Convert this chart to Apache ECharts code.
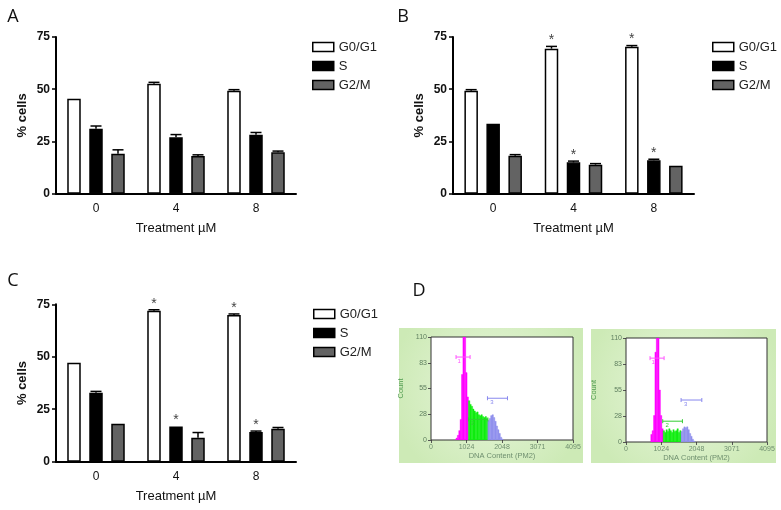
<!DOCTYPE html>
<html><head><meta charset="utf-8">
<script src="https://cdn.jsdelivr.net/npm/echarts@6/dist/echarts.min.js"></script>
<style>html,body{margin:0;padding:0;background:#fff}#c{width:781px;height:510px}</style>
</head><body><div id="c"></div>
<script>
// ---------- DATA ----------
const categories = ['0', '4', '8'];
const phases = ['G0/G1', 'S', 'G2/M'];
const yTicks = [0, 25, 50, 75];

// Panel A
const aG0G1 = [45.4, 52.6, 49.3];
const aS    = [31.1, 27.0, 28.2];
const aG2M  = [19.1, 18.0, 19.8];
const aErrG0G1 = [0, 0.7, 0.5];
const aErrS    = [1.3, 1.3, 1.1];
const aErrG2M  = [1.9, 0.6, 0.6];
const aSigG0G1 = [0, 0, 0];
const aSigS    = [0, 0, 0];
const aSigG2M  = [0, 0, 0];

// Panel B
const bG0G1 = [49.3, 69.4, 70.3];
const bS    = [33.5, 15.0, 16.0];
const bG2M  = [18.2, 13.9, 13.4];
const bErrG0G1 = [0.5, 1.1, 0.6];
const bErrS    = [0, 0.6, 0.5];
const bErrG2M  = [0.5, 0.5, 0];
const bSigG0G1 = [0, 1, 1];
const bSigS    = [0, 1, 1];
const bSigG2M  = [0, 0, 0];

// Panel C
const cG0G1 = [47.2, 71.9, 69.9];
const cS    = [32.9, 16.8, 14.1];
const cG2M  = [18.1, 11.4, 15.7];
const cErrG0G1 = [0, 0.5, 0.5];
const cErrS    = [0.6, 0, 0.5];
const cErrG2M  = [0, 2.5, 0.6];
const cSigG0G1 = [0, 1, 1];
const cSigS    = [0, 1, 1];
const cSigG2M  = [0, 0, 0];

// Panel D histograms (DNA content bins, counts)
const dnaTicks = [0, 1024, 2048, 3071, 4095];
const countTicks = [0, 28, 55, 83, 110];
const binWidth = 40;
const d1BinStarts = [720,760,800,840,880,920,960,1000,1040,1080,1120,1160,1200,1240,1280,1320,1360,1400,1440,1480,1520,1560,1600,1640,1680,1720,1760,1800,1840,1880,1920,1960,2000,2040];
const d1Counts    = [2,5,10,22,70,125,118,72,46,42,38,36,33,31,29,30,27,26,27,25,24,25,23,21,23,26,27,24,20,15,11,7,3,1];
const d1Gates = [1080, 1640];
const d2BinStarts = [720,760,800,840,880,920,960,1000,1040,1080,1120,1160,1200,1240,1280,1320,1360,1400,1440,1480,1520,1560,1600,1640,1680,1720,1760,1800,1840,1880,1920,1960];
const d2Counts    = [8,12,28,95,130,125,55,28,14,12,10,13,11,14,12,10,13,11,12,14,10,12,11,14,16,15,16,13,9,6,3,1];
const d2Gates = [1080, 1600];
// markers: [start, end, level, label]
const d1Markers = [[722, 1127, 88.6, '1'], [1080, 1640, 22, '2'], [1628, 2206, 44.6, '3']];
const d2Markers = [[698, 1106, 88.7, '1'], [1067, 1639, 22, '2'], [1600, 2202, 44.4, '3']];

// ---------- STYLE ----------
const FONT = 'Liberation Sans';
const barFill = ['#ffffff', '#000000', '#636363'];
const histFill = ['#ff00ff', '#11ee11', '#9090ee'];
const markerCol = ['#ff55ff', '#33cc33', '#8888ee'];
const STEP = 22;

const chart = echarts.init(document.getElementById('c'), null, {renderer: 'canvas'});

const grids = [
  {left: 56, top: 37, width: 240, height: 156.7},
  {left: 453, top: 37, width: 241, height: 156.7},
  {left: 56, top: 304.3, width: 240, height: 157.4},
  {left: 431, top: 337, width: 142, height: 103, show: true, backgroundColor: '#ffffff', borderColor: '#333', borderWidth: 1, z: 1},
  {left: 626, top: 338, width: 141, height: 104, show: true, backgroundColor: '#ffffff', borderColor: '#333', borderWidth: 1, z: 1}
];

function barX(i) {
  return {
    type: 'category', gridIndex: i, data: categories,
    axisLine: {lineStyle: {color: '#000', width: 2}},
    axisTick: {alignWithLabel: true, length: 5, lineStyle: {color: '#000', width: 1.5}},
    axisLabel: {fontSize: 12, color: '#111', fontFamily: FONT, margin: 9},
    name: 'Treatment µM', nameLocation: 'middle', nameGap: 28,
    nameTextStyle: {fontSize: 13, color: '#111', fontFamily: FONT}
  };
}
function barY(i) {
  return {
    type: 'value', gridIndex: i, min: yTicks[0], max: yTicks[yTicks.length - 1], interval: 25,
    axisLine: {show: true, lineStyle: {color: '#000', width: 2}},
    axisTick: {show: true, length: 4, lineStyle: {color: '#000', width: 1.5}},
    axisLabel: {fontSize: 12, fontWeight: 'bold', color: '#111', fontFamily: FONT, margin: 6},
    splitLine: {show: false},
    name: '% cells', nameLocation: 'middle', nameGap: 27, nameRotate: 90,
    nameTextStyle: {fontSize: 13, fontWeight: 'bold', color: '#111', fontFamily: FONT}
  };
}
function histX(i) {
  return {
    type: 'value', gridIndex: i, min: 0, max: 4095, interval: 1023.75,
    axisLine: {show: false}, splitLine: {show: false},
    axisTick: {show: true, length: 3, lineStyle: {color: '#555', width: 1}},
    axisLabel: {fontSize: 7, color: '#6f8f6f', fontFamily: FONT, margin: 4,
      formatter: v => String(Math.round(v))},
    name: 'DNA Content (PM2)', nameLocation: 'middle', nameGap: 12,
    nameTextStyle: {fontSize: 7.5, color: '#6f8f6f', fontFamily: FONT}
  };
}
function histY(i, gap) {
  return {
    type: 'value', gridIndex: i, min: 0, max: 110, interval: 27.5,
    axisLine: {show: false}, splitLine: {show: false},
    axisTick: {show: true, length: 3, lineStyle: {color: '#555', width: 1}},
    axisLabel: {fontSize: 7, color: '#5f7f5f', fontFamily: FONT, margin: 4,
      formatter: v => String(Math.round(v))},
    name: 'Count', nameLocation: 'middle', nameGap: gap, nameRotate: 90,
    nameTextStyle: {fontSize: 7.5, color: '#4f9a4f', fontFamily: FONT}
  };
}

const series = [];
function barPanel(idx, vals, errs, sigs) {
  vals.forEach((v, p) => {
    series.push({
      type: 'bar', name: phases[p], xAxisIndex: idx, yAxisIndex: idx, data: v,
      barWidth: 13.5, barGap: '63%',
      itemStyle: {color: barFill[p], borderColor: '#000', borderWidth: 1.5},
      z: 2, silent: true
    });
  });
  const data = [];
  for (let c = 0; c < categories.length; c++) {
    for (let p = 0; p < phases.length; p++) {
      data.push([c, p, vals[p][c], errs[p][c], sigs[p][c]]);
    }
  }
  series.push({
    type: 'custom', xAxisIndex: idx, yAxisIndex: idx, data: data, z: 4, silent: true,
    encode: {x: 0, y: 2},
    renderItem: function (params, api) {
      const c = api.value(0), p = api.value(1), v = api.value(2), e = api.value(3), s = api.value(4);
      const base = api.coord([c, v]);
      const top = api.coord([c, v + e]);
      const x = base[0] + (p - 1) * STEP;
      const ch = [];
      if (e > 0) {
        ch.push({type: 'line', shape: {x1: x, y1: base[1], x2: x, y2: top[1]}, style: {stroke: '#000', lineWidth: 1.5}});
        ch.push({type: 'line', shape: {x1: x - 5.5, y1: top[1], x2: x + 5.5, y2: top[1]}, style: {stroke: '#000', lineWidth: 1.5}});
      }
      if (s) {
        ch.push({type: 'text', style: {text: '*', x: x, y: top[1] - 6, align: 'center', verticalAlign: 'middle',
          font: '14px "Liberation Sans"', fill: '#444'}});
      }
      return {type: 'group', children: ch};
    }
  });
}
barPanel(0, [aG0G1, aS, aG2M], [aErrG0G1, aErrS, aErrG2M], [aSigG0G1, aSigS, aSigG2M]);
barPanel(1, [bG0G1, bS, bG2M], [bErrG0G1, bErrS, bErrG2M], [bSigG0G1, bSigS, bSigG2M]);
barPanel(2, [cG0G1, cS, cG2M], [cErrG0G1, cErrS, cErrG2M], [cSigG0G1, cSigS, cSigG2M]);

function histPanel(idx, starts, counts, gates, markers) {
  const data = starts.map((x0, i) => {
    const ph = x0 < gates[0] ? 0 : (x0 < gates[1] ? 1 : 2);
    return [x0, x0 + binWidth, counts[i], ph];
  });
  series.push({
    type: 'custom', xAxisIndex: idx, yAxisIndex: idx, data: data, clip: true, z: 3, silent: true,
    encode: {x: [0, 1], y: 2},
    renderItem: function (params, api) {
      const ph = api.value(3);
      const p0 = api.coord([api.value(0), Math.min(api.value(2), 110)]);
      const p1 = api.coord([api.value(1), 0]);
      return {type: 'rect', shape: {x: p0[0], y: p0[1], width: p1[0] - p0[0], height: p1[1] - p0[1]},
        style: {fill: histFill[ph], stroke: histFill[ph], lineWidth: 0.4}};
    }
  });
  series.push({
    type: 'custom', xAxisIndex: idx, yAxisIndex: idx, z: 5, silent: true,
    data: markers.map((m, i) => [m[0], m[1], m[2], i]),
    encode: {x: [0, 1], y: 2},
    renderItem: function (params, api) {
      const i = api.value(3);
      const a = api.coord([api.value(0), api.value(2)]);
      const b = api.coord([api.value(1), api.value(2)]);
      const col = markerCol[i];
      const lx = a[0] + (b[0] - a[0]) * 0.22;
      return {type: 'group', children: [
        {type: 'line', shape: {x1: a[0], y1: a[1], x2: b[0], y2: b[1]}, style: {stroke: col, lineWidth: 1}},
        {type: 'line', shape: {x1: a[0], y1: a[1] - 2, x2: a[0], y2: a[1] + 2}, style: {stroke: col, lineWidth: 1}},
        {type: 'line', shape: {x1: b[0], y1: b[1] - 2, x2: b[0], y2: b[1] + 2}, style: {stroke: col, lineWidth: 1}},
        {type: 'text', style: {text: markers[i][3], x: lx, y: a[1] + 1, align: 'center', verticalAlign: 'top',
          font: '6px "Liberation Sans"', fill: col}}
      ]};
    }
  });
}
histPanel(3, d1BinStarts, d1Counts, d1Gates, d1Markers);
histPanel(4, d2BinStarts, d2Counts, d2Gates, d2Markers);

function legendAt(left, top) {
  return {
    left: left, top: top, orient: 'vertical', data: phases, icon: 'rect', padding: 0,
    itemWidth: 21, itemHeight: 9, itemGap: 5, selectedMode: false,
    itemStyle: {borderColor: '#000', borderWidth: 1.5},
    textStyle: {fontSize: 13, color: '#222', fontFamily: FONT, lineHeight: 14}
  };
}

const bgFill = {type: 'radial', x: 0.5, y: 0.45, r: 0.75,
  colorStops: [{offset: 0, color: '#e8f6dc'}, {offset: 1, color: '#cdeab6'}]};

const option = {
  animation: false,
  backgroundColor: '#ffffff',
  grid: grids,
  xAxis: [barX(0), barX(1), barX(2), histX(3), histX(4)],
  yAxis: [barY(0), barY(1), barY(2), histY(3, 26.5), histY(4, 28.5)],
  legend: [legendAt(312, 40), legendAt(712, 40), legendAt(313, 307)],
  series: series,
  graphic: [
    {type: 'rect', z: -10, shape: {x: 399, y: 328, width: 184, height: 135}, style: {fill: bgFill}},
    {type: 'rect', z: -10, shape: {x: 591, y: 329, width: 185, height: 134}, style: {fill: bgFill}},
    {type: 'text', x: 13, y: 17, style: {text: 'A', font: '18px "Open Sans"', fill: '#111', align: 'center', verticalAlign: 'middle'}},
    {type: 'text', x: 403, y: 17, style: {text: 'B', font: '18px "Open Sans"', fill: '#111', align: 'center', verticalAlign: 'middle'}},
    {type: 'text', x: 13, y: 281, style: {text: 'C', font: '18px "Open Sans"', fill: '#111', align: 'center', verticalAlign: 'middle'}},
    {type: 'text', x: 419, y: 291, style: {text: 'D', font: '18px "Open Sans"', fill: '#111', align: 'center', verticalAlign: 'middle'}}
  ]
};
chart.setOption(option);
</script>
</body></html>
